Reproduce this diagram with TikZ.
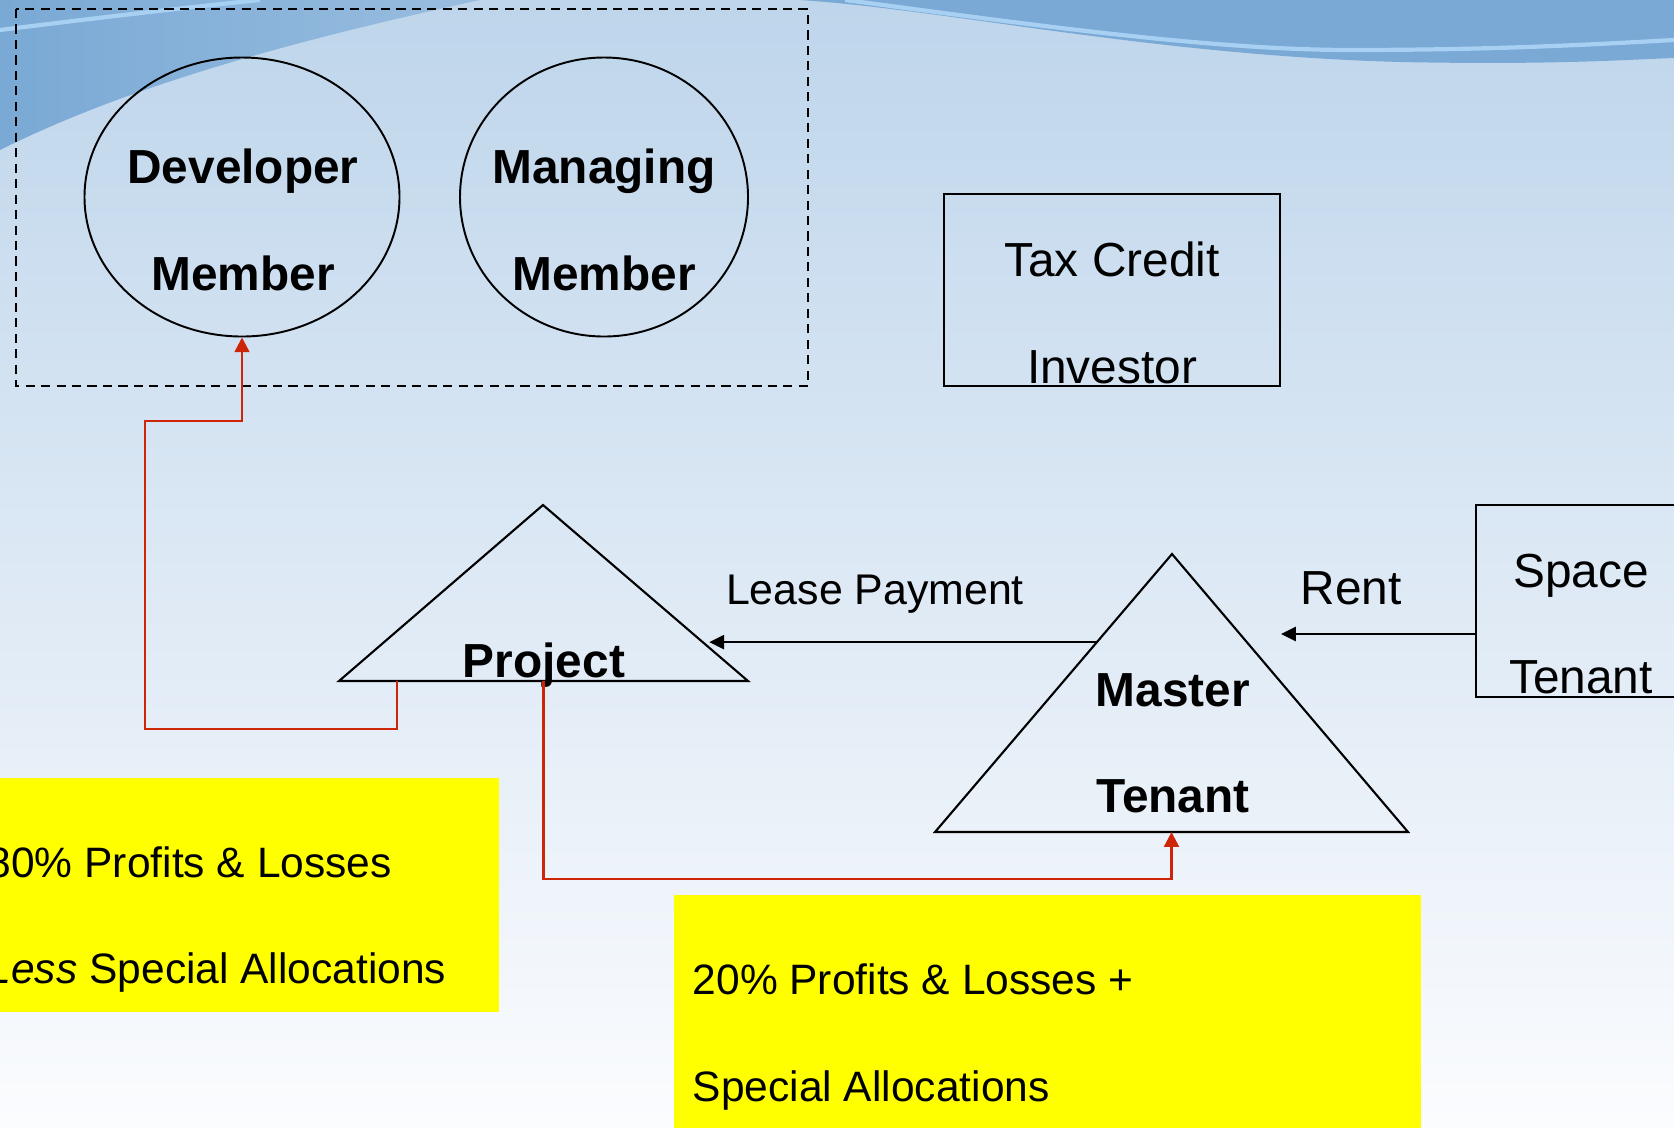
\documentclass[tikz,border=0pt]{standalone}
\usepackage{fontspec}
\setmainfont{Liberation Sans}
\usepackage{tikz}
\usetikzlibrary{arrows.meta,calc,shapes.geometric}

\definecolor{bgtop}{RGB}{190,213,235}
\definecolor{bgbot}{RGB}{251,252,254}
\definecolor{wave}{RGB}{122,169,213}
\definecolor{waveline}{RGB}{168,208,242}
\definecolor{flowred}{RGB}{206,36,8}
\definecolor{notefill}{RGB}{255,255,0}

\tikzset{
  boldlbl/.style={font=\fontsize{13.6}{16}\selectfont\bfseries, inner sep=0pt, anchor=base},
  plainlbl/.style={font=\fontsize{13.6}{16}\selectfont, inner sep=0pt, anchor=base},
  smalllbl/.style={font=\fontsize{12.2}{14}\selectfont, inner sep=0pt, anchor=base},
  notelbl/.style={font=\fontsize{12.1}{14}\selectfont, inner sep=0pt, anchor=base west},
  memberoval/.style={ellipse, draw, line width=0.55pt, inner sep=0pt},
  partybox/.style={rectangle, draw, line width=0.6pt, inner sep=0pt},
  arw/.style={line width=0.6pt, -{Triangle[length=4.2pt,width=4pt]}},
  flow/.style={flowred, line width=0.7pt, -{Triangle[length=4.2pt,width=4.2pt]}}
}

\begin{document}
\begin{tikzpicture}[x=0.1mm, y=-0.1mm]
        \useasboundingbox (0,0) rectangle (1674,1127);
        \clip (0,0) rectangle (1674,1127);
        %%Background
        \shade[top color=bgtop, bottom color=bgbot] (0,0) rectangle (1674,1127);
        \shade[left color=wave, right color=wave!55!bgtop]
        (0,0) -- (480,0) .. controls (320,35) and (140,80) .. (0,150) -- cycle;
        \fill[wave] (800,0) .. controls (950,10) and (1150,55) .. (1400,62)
        .. controls (1550,65) and (1620,60) .. (1674,58) -- (1674,0) -- cycle;
        \draw[waveline, line width=1.2pt] (0,30) .. controls (80,20) and (180,8) .. (260,0);
        \draw[waveline, line width=1.2pt] (845,0) .. controls (1000,20) and (1200,50) .. (1350,50)
        .. controls (1500,50) and (1600,44) .. (1674,40);
        %%Members
        \draw[line width=0.6pt, dash pattern=on 2.6pt off 1.8pt] (16,9) rectangle (808,386);
        \node[memberoval, minimum width=3.15cm, minimum height=2.79cm] (dev) at (242,197) {};
        \node[memberoval, minimum width=2.88cm, minimum height=2.79cm] (mgr) at (604,197) {};
        \node[boldlbl] (dev-a) at (243,183) {Developer};
        \node[boldlbl] (dev-b) at (243,290) {Member};
        \node[boldlbl] (mgr-a) at (604,183) {Managing};
        \node[boldlbl] (mgr-b) at (604,290) {Member};
        %%Investor
        \node[partybox, minimum width=3.36cm, minimum height=1.915cm] (tax) at (1112,290) {};
        \node[plainlbl] (tax-a) at (1112,276) {Tax Credit};
        \node[plainlbl] (tax-b) at (1112,383) {Investor};
        %%Space tenant
        \node[partybox, minimum width=2.16cm, minimum height=1.92cm] (space) at (1584,601) {};
        \node[plainlbl] (space-a) at (1581,587) {Space};
        \node[plainlbl] (space-b) at (1581,693) {Tenant};
        %%Project
        \coordinate (prj-top) at (543,505);
        \coordinate (prj-left) at (339,681);
        \coordinate (prj-right) at (748,681);
        \draw[line width=0.6pt, line join=miter] (prj-left) -- (prj-top) -- (prj-right) -- cycle;
        \node[boldlbl] (prj) at (544,677) {Project};
        %%Master tenant
        \coordinate (mst-top) at (1172,554);
        \coordinate (mst-left) at (935,832);
        \coordinate (mst-right) at (1408,832);
        \draw[line width=0.6pt, line join=miter] (mst-left) -- (mst-top) -- (mst-right) -- cycle;
        \node[boldlbl] (mst-a) at (1173,706) {Master};
        \node[boldlbl] (mst-b) at (1173,812) {Tenant};
        %%Payments
        \coordinate (lease-out) at ($(mst-top)!0.317!(mst-left)$);
        \coordinate (lease-in) at ($(prj-top)!0.777!(prj-right)+(7,0)$);
        \draw[arw] (lease-out) -- (lease-out -| lease-in);
        \node[smalllbl] (lease) at (875,604) {Lease Payment};
        \coordinate (rent-in) at (1281,634);
        \draw[arw] (rent-in -| space.west) -- (rent-in);
        \node[plainlbl] (rent) at (1351,604) {Rent};
        %%Allocations
        \coordinate (prj-foot) at (397,681);
        \coordinate (prj-mid) at ($(prj-left)!0.5!(prj-right)$);
        \coordinate (mst-foot) at ($(mst-left)!0.5!(mst-right)$);
        \draw[flow] (prj-foot) |- (145,729) -- (145,421) -| (dev.south);
        \draw[flow] (prj-mid) |- (mst-foot |- 0,879) -- (mst-foot);
        %%Notes
        \fill[notefill] (-40,778) rectangle (499,1012);
        \fill[notefill] (674,895) rectangle (1421,1140);
        \node[notelbl] (less-a) at (-13,877) {80\% Profits \& Losses};
        \node[notelbl] (less-b) at (-13,983) {\textit{Less} Special Allocations};
        \node[notelbl] (plus-a) at (692,994) {20\% Profits \& Losses +};
        \node[notelbl] (plus-b) at (692,1101) {Special Allocations};
\end{tikzpicture}
\end{document}
